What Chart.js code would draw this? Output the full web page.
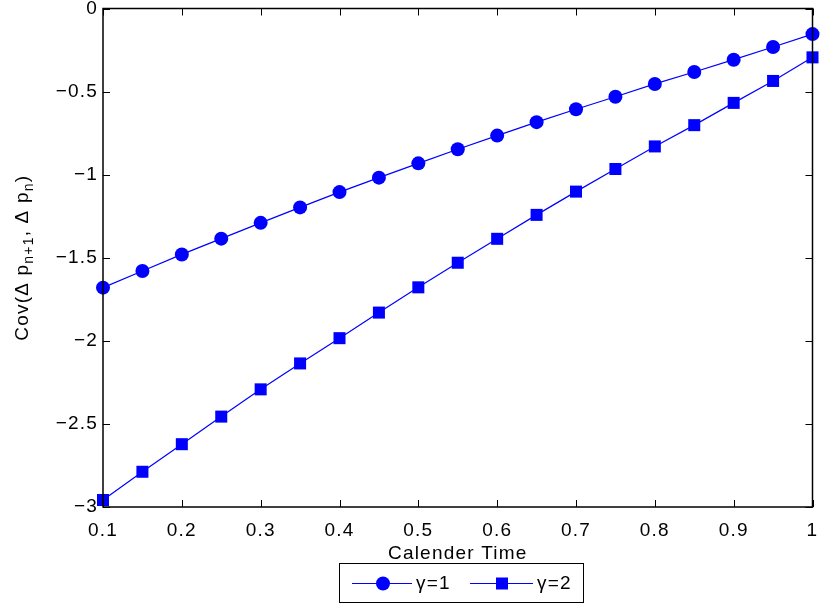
<!DOCTYPE html>
<html>
<head>
<meta charset="utf-8">
<script src="https://cdn.jsdelivr.net/npm/chart.js@4"></script>
<style>
  html, body { margin: 0; padding: 0; background: #fff; }
  #wrap { width: 821px; height: 605px; }
</style>
</head>
<body>
<div id="wrap"><canvas id="chart-canvas" width="821" height="605"></canvas></div>
<script>
// Calender time grid (x values)
const calenderTime = [0.1, 0.15, 0.2, 0.25, 0.3, 0.35, 0.4, 0.45, 0.5, 0.55,
  0.6, 0.65, 0.7, 0.75, 0.8, 0.85, 0.9, 0.95, 1.0];
// Cov(dp_{n+1}, dp_n) for gamma = 1 (circles)
const covGamma1 = [-1.68, -1.58, -1.48, -1.385, -1.29, -1.197, -1.105, -1.018, -0.932, -0.847,
  -0.765, -0.684, -0.606, -0.531, -0.454, -0.382, -0.308, -0.232, -0.154];
// Cov(dp_{n+1}, dp_n) for gamma = 2 (squares)
const covGamma2 = [-2.958, -2.788, -2.622, -2.456, -2.292, -2.136, -1.984, -1.83, -1.678, -1.53,
  -1.386, -1.242, -1.102, -0.966, -0.83, -0.702, -0.568, -0.436, -0.294];
const seriesNames = ["\u03b3=1", "\u03b3=2"];
const xTicks = [0.1, 0.2, 0.3, 0.4, 0.5, 0.6, 0.7, 0.8, 0.9, 1];
const yTicks = [0, -0.5, -1, -1.5, -2, -2.5, -3];

const FONT = "'Liberation Sans', Arial, sans-serif";
const BLUE = "#0000ff";

function fmt(v) {
  return String(v).replace("-", "\u2212");
}

// MATLAB text is a bit wider than Liberation Sans, so spread it out a little
const spacing = {
  id: "spacing",
  beforeDraw(chart) {
    chart.ctx.letterSpacing = "1.2px";
  }
};

// draws the MATLAB style box, inward ticks, axis titles and the legend
const matlabAxes = {
  id: "matlabAxes",
  afterDraw(chart) {
    const { ctx, chartArea: a, scales } = chart;
    const xs = scales.x, ys = scales.y;
    ctx.save();
    ctx.letterSpacing = "1.2px";
    ctx.strokeStyle = "#000";
    ctx.lineWidth = 1.5;
    ctx.strokeRect(a.left, a.top, a.right - a.left, a.bottom - a.top);

    ctx.lineWidth = 1;
    const tl = 7;
    ctx.beginPath();
    xTicks.forEach((v) => {
      const px = Math.round(xs.getPixelForValue(v)) + 0.5;
      ctx.moveTo(px, a.bottom); ctx.lineTo(px, a.bottom - tl);
      ctx.moveTo(px, a.top); ctx.lineTo(px, a.top + tl);
    });
    yTicks.forEach((v) => {
      const py = Math.round(ys.getPixelForValue(v)) + 0.5;
      ctx.moveTo(a.left, py); ctx.lineTo(a.left + tl, py);
      ctx.moveTo(a.right, py); ctx.lineTo(a.right - tl, py);
    });
    ctx.stroke();

    // x title
    ctx.fillStyle = "#000";
    ctx.font = "19px " + FONT;
    ctx.textAlign = "center";
    ctx.textBaseline = "alphabetic";
    ctx.fillText("Calender Time", (a.left + a.right) / 2, 559);

    // y title with subscripts
    const parts = [
      ["Cov(\u0394 p", false], ["n+1", true], [", \u0394 p", false], ["n", true], [")", false]
    ];
    const big = "19px " + FONT, small = "14px " + FONT;
    let total = 0;
    parts.forEach(([t, sub]) => {
      ctx.font = sub ? small : big;
      total += ctx.measureText(t).width;
    });
    ctx.translate(28, (a.top + a.bottom) / 2);
    ctx.rotate(-Math.PI / 2);
    ctx.textAlign = "left";
    let cx = -total / 2;
    parts.forEach(([t, sub]) => {
      ctx.font = sub ? small : big;
      ctx.fillText(t, cx, sub ? 5 : 0);
      cx += ctx.measureText(t).width;
    });
    ctx.setTransform(1, 0, 0, 1, 0, 0);

    // legend box
    const lx = 339, ly = 563, lw = 244, lh = 39;
    ctx.fillStyle = "#fff";
    ctx.fillRect(lx, ly, lw, lh);
    ctx.strokeStyle = "#000";
    ctx.lineWidth = 1;
    ctx.strokeRect(lx + 0.5, ly + 0.5, lw, lh);
    const cy = ly + lh / 2 + 1;
    const items = [
      { x0: 352, x1: 412, mx: 383, tx: 416 },
      { x0: 470, x1: 533, mx: 502, tx: 537 }
    ];
    chart.data.datasets.forEach((ds, i) => {
      const it = items[i];
      ctx.strokeStyle = ds.borderColor;
      ctx.lineWidth = ds.borderWidth;
      ctx.beginPath();
      ctx.moveTo(it.x0, cy); ctx.lineTo(it.x1, cy);
      ctx.stroke();
      ctx.fillStyle = ds.pointBackgroundColor;
      if (ds.pointStyle === "rect") {
        ctx.fillRect(it.mx - 6, cy - 6, 12, 12);
      } else {
        ctx.beginPath();
        ctx.arc(it.mx, cy, 7, 0, Math.PI * 2);
        ctx.fill();
      }
      ctx.fillStyle = "#000";
      ctx.font = "19px " + FONT;
      ctx.textAlign = "left";
      ctx.textBaseline = "middle";
      ctx.fillText(ds.label, it.tx, cy);
    });
    ctx.restore();
  }
};

const ctx = document.getElementById("chart-canvas").getContext("2d");
const myChart = new Chart(ctx, {
  type: "line",
  data: {
    datasets: [
      {
        label: seriesNames[0],
        data: calenderTime.map((t, i) => ({ x: t, y: covGamma1[i] })),
        borderColor: BLUE,
        backgroundColor: BLUE,
        pointBackgroundColor: BLUE,
        pointBorderColor: BLUE,
        borderWidth: 1.2,
        pointStyle: "circle",
        pointRadius: 7,
        pointBorderWidth: 0,
        tension: 0,
      },
      {
        label: seriesNames[1],
        data: calenderTime.map((t, i) => ({ x: t, y: covGamma2[i] })),
        borderColor: BLUE,
        backgroundColor: BLUE,
        pointBackgroundColor: BLUE,
        pointBorderColor: BLUE,
        borderWidth: 1.2,
        pointStyle: "rect",
        pointRadius: 8.5,
        pointBorderWidth: 0,
        tension: 0,
      },
    ],
  },
  options: {
    responsive: false,
    animation: false,
    clip: false,
    layout: { padding: { top: 7, right: 2, left: 0, bottom: 0 } },
    plugins: {
      legend: { display: false },
      tooltip: { enabled: false },
    },
    scales: {
      x: {
        type: "linear",
        min: 0.1,
        max: 1,
        afterBuildTicks: (s) => { s.ticks = xTicks.map((v) => ({ value: v })); },
        afterFit: (s) => { s.height = 98; s.paddingRight = 0; s.paddingLeft = 0; },
        grid: { display: false, drawTicks: false },
        border: { display: false },
        ticks: {
          padding: 12,
          color: "#000",
          font: { family: FONT, size: 19 },
          maxRotation: 0,
          callback: (v) => fmt(v),
        },
      },
      y: {
        type: "linear",
        min: -3,
        max: 0,
        afterBuildTicks: (s) => { s.ticks = yTicks.map((v) => ({ value: v })); },
        afterFit: (s) => { s.width = 103; s.paddingTop = 0; s.paddingBottom = 0; },
        grid: { display: false, drawTicks: false },
        border: { display: false },
        ticks: {
          padding: 5,
          color: "#000",
          font: { family: FONT, size: 19 },
          callback: (v) => fmt(v),
        },
      },
    },
  },
  plugins: [spacing, matlabAxes],
});
</script>
</body>
</html>
